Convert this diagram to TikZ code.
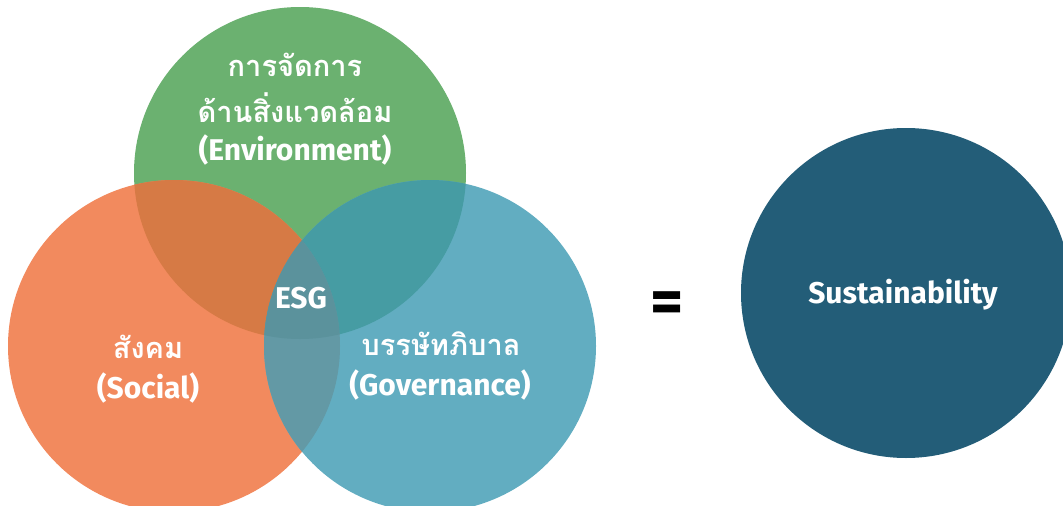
\documentclass[tikz,border=0pt]{standalone}
\usepackage{fontspec}
\setmainfont{Fira Sans}
\newfontfamily\thaifont[Script=Thai]{Loma}
\definecolor{cgreen}{HTML}{6BB170}
\definecolor{corange}{HTML}{F28A5E}
\definecolor{cblue}{HTML}{62ADC1}
\definecolor{cgo}{HTML}{D67A45}
\definecolor{cgb}{HTML}{469CA3}
\definecolor{cob}{HTML}{6399A5}
\definecolor{call}{HTML}{5B929C}
\definecolor{cdark}{HTML}{235D78}
\tikzset{
  disc/.style={circle, inner sep=0pt, minimum size=332pt, draw=none},
  lbl/.style={text=white, align=center, font=\fontsize{30}{36}\selectfont\bfseries},
  thai/.style={text=white, font=\thaifont\fontsize{29}{34}\selectfont\bfseries},
}
\begin{document}
\begin{tikzpicture}[x=1pt,y=-1pt]
\useasboundingbox (0,0) rectangle (1063,506);
\coordinate (cg) at (300,173);
\coordinate (co) at (174,346);
\coordinate (cb) at (430,346);
\node[disc, fill=cgreen] (green) at (cg) {};
\node[disc, fill=corange] (orange) at (co) {};
\node[disc, fill=cblue] (blue) at (cb) {};
\begin{scope}
  \clip (cg) circle[radius=166];
  \fill[cgo] (co) circle[radius=166];
  \fill[cgb] (cb) circle[radius=166];
\end{scope}
\begin{scope}
  \clip (co) circle[radius=166];
  \fill[cob] (cb) circle[radius=166];
  \clip (cb) circle[radius=166];
  \fill[call] (cg) circle[radius=166];
\end{scope}
\node[disc, fill=cdark, minimum size=330pt] (sust) at (906,293) {};
% labels
\node[thai] (e1) at (295,65) {การจัดการ};
\node[thai] (e2) at (295,108) {ด้านสิ่งแวดล้อม};
\node[lbl] (e3) at (295,150) {(Environment)};
\node[lbl] (esg) at (301,298) {ESG};
\node[thai] (s1) at (148,347) {สังคม};
\node[lbl] (s2) at (148,388) {(Social)};
\node[thai] (g1) at (441,344) {บรรษัทภิบาล};
\node[lbl] (g2) at (440,385) {(Governance)};
\node[text=white, font=\fontsize{30}{34}\selectfont\bfseries] (st) at (903,295) {Sustainability};
\node[font=\fontsize{64}{68}\selectfont\bfseries] (eq) at (667,308) {=};
\end{tikzpicture}
\end{document}
